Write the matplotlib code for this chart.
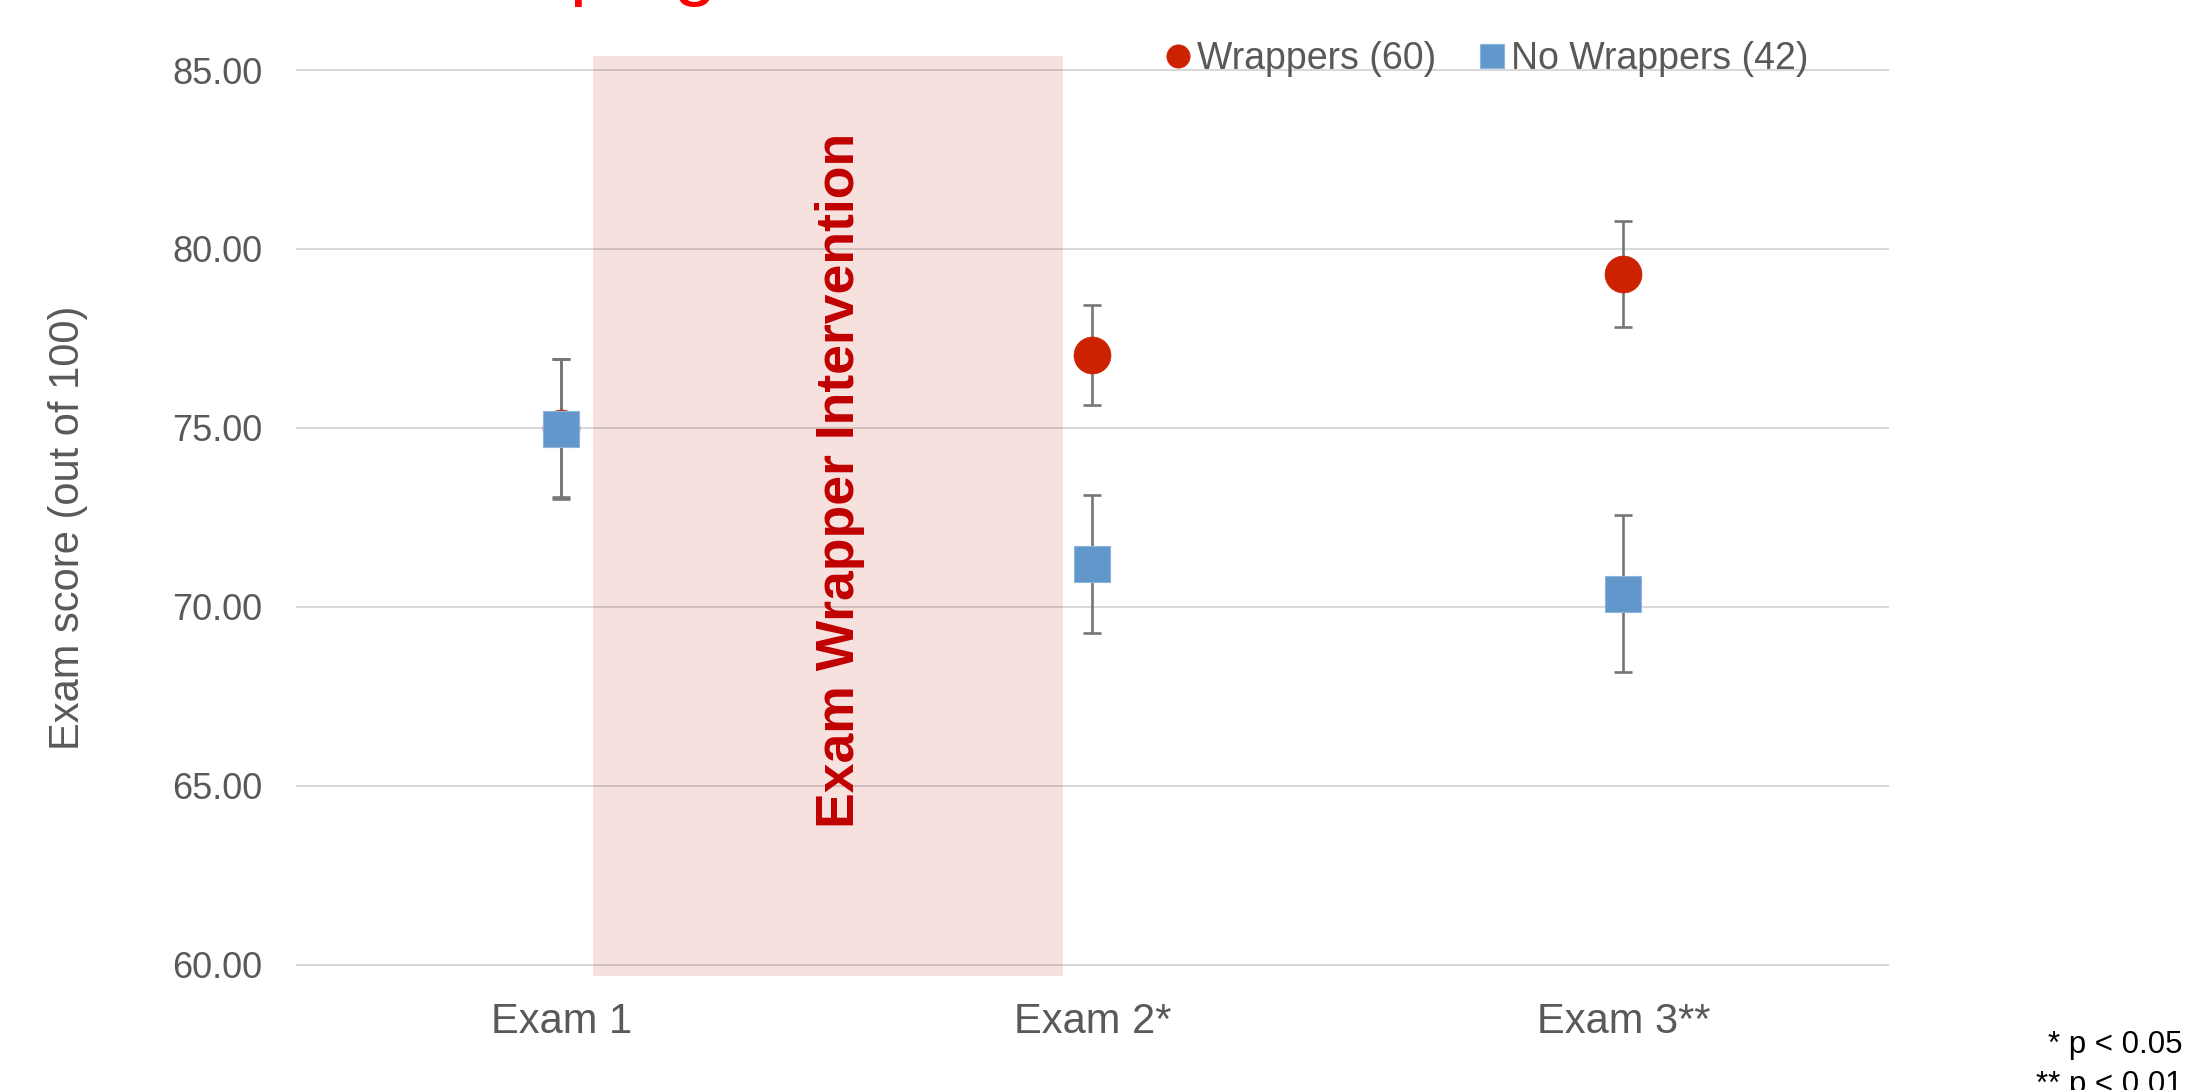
import matplotlib
matplotlib.use("Agg")
import matplotlib.pyplot as plt
from matplotlib.patches import Rectangle

plt.rcParams["font.family"] = ["Liberation Sans", "DejaVu Sans"]

# ---- data -------------------------------------------------------------
exams = ["Exam 1", "Exam 2*", "Exam 3**"]
wrappers_mean = [75.00, 77.03, 79.30]
wrappers_err = [1.93, 1.40, 1.48]
no_wrappers_mean = [74.97, 71.20, 70.37]
no_wrappers_err = [1.96, 1.94, 2.19]
y_ticks = [60, 65, 70, 75, 80, 85]

# intervention period (between exam 1 and exam 2)
band_x = (1.059, 1.945)
band_y = (59.70, 85.38)

# ---- styling ----------------------------------------------------------
red = "#CC2200"
blue = "#6197CA"
err_grey = "#767676"
text_grey = "#595959"

fig = plt.figure(figsize=(21.92, 10.90), dpi=100)
ax = fig.add_axes([0.1350, 0.0983, 0.7267, 0.8539])

x = list(range(1, len(exams) + 1))

ax.add_patch(Rectangle((band_x[0], band_y[0]), band_x[1] - band_x[0],
                       band_y[1] - band_y[0], facecolor="#F6E1DF",
                       edgecolor="none", zorder=0.3))

ax.text(sum(band_x) / 2 + 0.022, 73.54, "Exam Wrapper Intervention",
        rotation=90, ha="center", va="center", fontsize=38.5,
        fontweight="bold", color="#C00000", zorder=2)

err_kw = dict(fmt="none", ecolor=err_grey, elinewidth=1.9, capsize=6.5,
              capthick=1.9)
ax.errorbar(x, wrappers_mean, yerr=wrappers_err, zorder=3, **err_kw)
ax.errorbar(x, no_wrappers_mean, yerr=no_wrappers_err, zorder=3, **err_kw)

h_w, = ax.plot(x, wrappers_mean, "o", ls="none", color=red, markersize=26.6,
               markeredgecolor=red, markeredgewidth=0.5, zorder=4,
               label="Wrappers (60)")
h_n, = ax.plot(x, no_wrappers_mean, "s", ls="none", color=blue,
               markersize=26.6, markeredgecolor="#8DB4DC",
               markeredgewidth=0.8, zorder=5, label="No Wrappers (42)")

ax.set_xlim(0.5, 3.5)
ax.set_ylim(59.5, 85.5)
ax.set_xticks(x)
ax.set_xticklabels(exams)
ax.set_yticks(y_ticks)
ax.set_yticklabels([f"{v:.2f}" for v in y_ticks])
ax.tick_params(axis="x", length=0, pad=14, labelsize=30, labelcolor=text_grey)
ax.tick_params(axis="y", length=0, pad=24, labelsize=26, labelcolor=text_grey)
for s in ax.spines.values():
    s.set_visible(False)
ax.set_axisbelow(True)
ax.yaxis.grid(True, color="black", alpha=0.15, linewidth=1.45)
ax.xaxis.grid(False)

fig.text(68 / 2192, 1 - 528 / 1090, "Exam score (out of 100)", rotation=90,
         ha="center", va="center", fontsize=30, color=text_grey)

leg = fig.legend(handles=[h_w, h_n], loc="center left",
                 bbox_to_anchor=(1165 / 2192, 0.946), ncol=2, frameon=False,
                 fontsize=27, markerscale=0.63, handlelength=0.7,
                 handletextpad=0.15, columnspacing=1.15, borderpad=0,
                 borderaxespad=0, numpoints=1)
for t in leg.get_texts():
    t.set_color(text_grey)

# significance notes
fig.text(2183 / 2192, 1 - 1053 / 1090, "* p < 0.05", ha="right",
         va="baseline", fontsize=22.5, color="black")
fig.text(2183 / 2192, 1 - 1093 / 1090, "** p < 0.01", ha="right",
         va="baseline", fontsize=22.5, color="black")

# title running above the top edge
fig.text(454 / 2192, 1 + 9.4 / 1090, "Helping", ha="left", va="baseline",
         fontsize=56, color="#FF0000")

fig.savefig("out.png", dpi=100)
